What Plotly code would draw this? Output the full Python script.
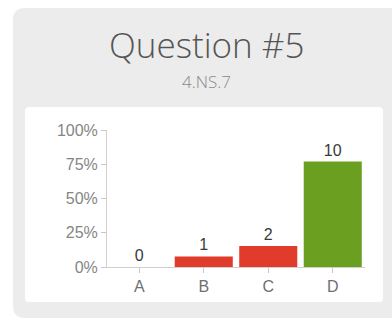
import plotly.graph_objects as go

# Answer choices and how many students picked each
choices = ["A", "B", "C", "D"]
counts = [0, 1, 2, 10]
correct = "D"
y_ticks = [0, 25, 50, 75, 100]
y_tick_labels = ["0%", "25%", "50%", "75%", "100%"]
title_text = "Question #5"
subtitle_text = "4.NS.7"

W, H = 392, 323
total = sum(counts)
percents = [c / total * 100 for c in counts]
colors = ["#6a9f20" if ch == correct else "#e03b2b" for ch in choices]


def px(x):
    return x / W


def py(y):
    return 1 - y / H


def rounded_rect(x0, y0, x1, y1, r):
    # rounded rectangle path in paper coordinates (pixel input, y downwards)
    pts = [
        f"M {px(x0 + r)} {py(y0)}",
        f"L {px(x1 - r)} {py(y0)}",
        f"Q {px(x1)} {py(y0)} {px(x1)} {py(y0 + r)}",
        f"L {px(x1)} {py(y1 - r)}",
        f"Q {px(x1)} {py(y1)} {px(x1 - r)} {py(y1)}",
        f"L {px(x0 + r)} {py(y1)}",
        f"Q {px(x0)} {py(y1)} {px(x0)} {py(y1 - r)}",
        f"L {px(x0)} {py(y0 + r)}",
        f"Q {px(x0)} {py(y0)} {px(x0 + r)} {py(y0)}",
        "Z",
    ]
    return " ".join(pts)


label_family = "Liberation Sans, Arial, sans-serif"

fig = go.Figure(
    go.Bar(
        x=choices,
        y=percents,
        marker=dict(color=colors, line=dict(width=0)),
        text=[str(c) for c in counts],
        textposition="outside",
        cliponaxis=False,
        textfont=dict(family=label_family, size=16, color="#3a3a3a"),
        width=0.9,
    )
)

fig.update_layout(
    template="none",
    width=W,
    height=H,
    margin=dict(l=0, r=0, t=0, b=0, pad=0),
    paper_bgcolor="white",
    plot_bgcolor="rgba(0,0,0,0)",
    showlegend=False,
    shapes=[
        dict(type="path", xref="paper", yref="paper", layer="below",
             path=rounded_rect(13, 8, 404, 318, 12),
             fillcolor="#ececec", line=dict(width=0)),
        dict(type="path", xref="paper", yref="paper", layer="below",
             path=rounded_rect(25, 107, 383, 302, 4),
             fillcolor="#ffffff", line=dict(width=0)),
    ],
    annotations=[
        dict(text=title_text, x=px(207), y=py(44), xref="paper", yref="paper",
             showarrow=False, xanchor="center", yanchor="middle",
             font=dict(family="Open Sans", size=35, color="#555555", weight=300)),
        dict(text=subtitle_text, x=px(207), y=py(81), xref="paper", yref="paper",
             showarrow=False, xanchor="center", yanchor="middle",
             font=dict(family="Open Sans", size=17, color="#8a8a8a", weight=300)),
    ],
    xaxis=dict(
        domain=[px(107), px(365)],
        automargin=False,
        showline=True, linecolor="#d0d0d0", linewidth=1,
        ticks="outside", ticklen=5, tickcolor="#c8c8c8",
        tickfont=dict(family=label_family, size=16, color="#707070"),
        showgrid=False, zeroline=False, fixedrange=True,
    ),
    yaxis=dict(
        domain=[py(267), py(130)],
        automargin=False,
        range=[0, 100],
        tickmode="array",
        tickvals=y_ticks,
        ticktext=y_tick_labels,
        showline=True, linecolor="#d0d0d0", linewidth=1,
        ticks="outside", ticklen=5, tickcolor="#c8c8c8",
        tickfont=dict(family=label_family, size=16, color="#858585"),
        showgrid=False, zeroline=False, fixedrange=True,
    ),
    bargap=0.1,
)

fig.write_html("out.html", config={"displayModeBar": False})
